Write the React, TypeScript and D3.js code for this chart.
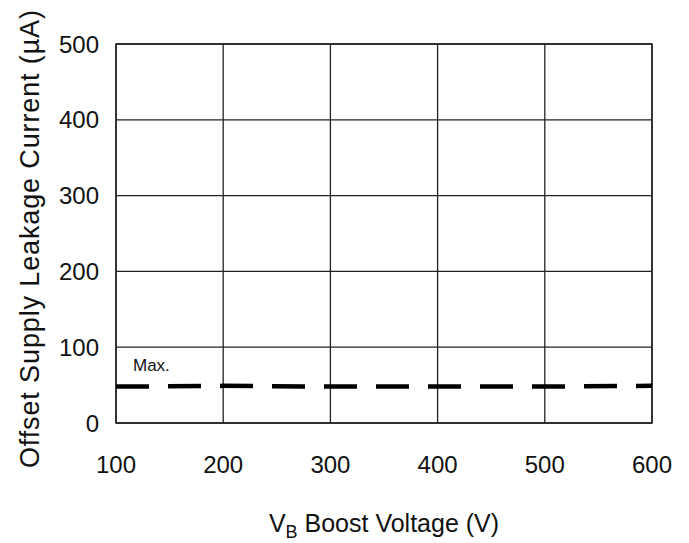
import React from 'react';
import * as d3 from 'd3';

// series
const voltages = [100, 200, 300, 400, 500, 600];
const leakageMax = [48, 49, 48, 48, 48, 49];
const xTicks = [100, 200, 300, 400, 500, 600];
const yTicks = [0, 100, 200, 300, 400, 500];

const W = 689;
const H = 543;
const margin = { top: 44, right: 37, bottom: 120, left: 116 };
const font = '"Liberation Sans", Arial, sans-serif';

const App = () => {
  const x = d3.scaleLinear()
    .domain([100, 600])
    .range([margin.left, W - margin.right]);
  const y = d3.scaleLinear()
    .domain([0, 500])
    .range([H - margin.bottom, margin.top]);

  const line = d3.line<number>()
    .x((d, i) => x(voltages[i]))
    .y(d => y(d));

  const [x0, x1] = x.range();
  const [y0, y1] = y.range();

  return (
    <svg width={W} height={H} style={{ position: 'absolute', left: 0, top: 0, background: '#fff' }}
      fontFamily={font}>
      {/* grid */}
      {xTicks.map(t => (
        <line key={'gx' + t} x1={x(t)} x2={x(t)} y1={y0} y2={y1} stroke="#222" strokeWidth={1.3} />
      ))}
      {yTicks.map(t => (
        <line key={'gy' + t} x1={x0} x2={x1} y1={y(t)} y2={y(t)} stroke="#222" strokeWidth={1.3} />
      ))}
      <rect x={x0} y={y1} width={x1 - x0} height={y0 - y1} fill="none" stroke="#222" strokeWidth={1.5} />

      {/* max curve */}
      <path d={line(leakageMax) || ''} fill="none" stroke="#000" strokeWidth={4.5}
        strokeDasharray="33 19" />
      <text x={133} y={371} fontSize={17} fill="#111">Max.</text>

      {/* tick labels */}
      {yTicks.map(t => (
        <text key={'ly' + t} x={99} y={y(t)} dy="0.36em" textAnchor="end" fontSize={24} fill="#111">{t}</text>
      ))}
      {xTicks.map(t => (
        <text key={'lx' + t} x={x(t)} y={473} textAnchor="middle" fontSize={24} fill="#111">{t}</text>
      ))}

      {/* axis titles */}
      <text x={(x0 + x1) / 2} y={532} textAnchor="middle" fontSize={25} fill="#111">
        V<tspan fontSize={18} dy={6}>B</tspan><tspan dy={-6}> Boost Voltage (V)</tspan>
      </text>
      <text transform={`translate(39,${239}) rotate(-90)`} textAnchor="middle" fontSize={27} fill="#111"
        textLength={458} lengthAdjust="spacing">
        Offset Supply Leakage Current (µA)
      </text>
    </svg>
  );
};

export default App;
